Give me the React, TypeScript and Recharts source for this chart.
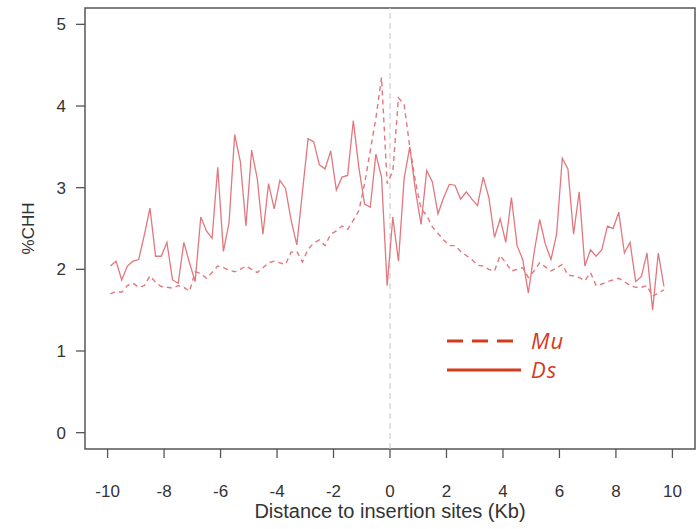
import React from 'react';
import { Label, Legend, Line, LineChart, ReferenceArea, ReferenceLine, XAxis, YAxis } from 'recharts';

// %CHH around insertion sites, 200 bp bins from -9.9 to 9.7 Kb
const dsValues = [
  2.04, 2.10, 1.87, 2.04, 2.10, 2.12, 2.42, 2.75, 2.16, 2.16,
  2.33, 1.87, 1.83, 2.33, 2.08, 1.85, 2.64, 2.47, 2.38, 3.25,
  2.22, 2.57, 3.65, 3.32, 2.53, 3.46, 3.11, 2.43, 3.05, 2.74,
  3.09, 2.99, 2.60, 2.30, 2.95, 3.60, 3.56, 3.28, 3.23, 3.45,
  2.97, 3.13, 3.15, 3.82, 3.24, 2.80, 2.76, 3.41, 3.13, 1.80,
  2.64, 2.10, 3.11, 3.50, 2.97, 2.55, 3.21, 3.07, 2.68, 2.88,
  3.04, 3.03, 2.86, 2.95, 2.86, 2.78, 3.13, 2.88, 2.39, 2.62,
  2.33, 2.88, 2.29, 2.12, 1.71, 2.20, 2.61, 2.31, 2.12, 2.43,
  3.36, 3.23, 2.43, 2.95, 2.04, 2.24, 2.16, 2.24, 2.53, 2.50,
  2.70, 2.20, 2.33, 1.85, 1.91, 2.20, 1.50, 2.20, 1.79,
];

const muValues = [
  1.70, 1.73, 1.72, 1.80, 1.83, 1.78, 1.80, 1.92, 1.84, 1.79,
  1.78, 1.77, 1.80, 1.78, 1.73, 1.97, 1.95, 1.89, 1.96, 2.04,
  2.02, 1.99, 1.97, 2.00, 2.04, 2.00, 1.96, 2.02, 2.08, 2.10,
  2.08, 2.06, 2.21, 2.22, 2.09, 2.25, 2.32, 2.36, 2.29, 2.43,
  2.47, 2.53, 2.49, 2.60, 2.72, 3.05, 3.45, 3.85, 4.35, 3.05,
  3.20, 4.10, 4.02, 3.50, 3.08, 2.74, 2.66, 2.52, 2.44, 2.36,
  2.29, 2.29, 2.22, 2.17, 2.12, 2.05, 2.04, 2.00, 1.98, 2.17,
  2.08, 1.98, 2.00, 2.02, 1.90, 1.98, 2.08, 2.03, 1.98, 2.02,
  2.06, 1.93, 1.92, 1.90, 1.86, 1.96, 1.80, 1.82, 1.85, 1.87,
  1.89, 1.85, 1.80, 1.78, 1.78, 1.80, 1.67, 1.71, 1.75,
];

const xTicks = [-10, -8, -6, -4, -2, 0, 2, 4, 6, 8, 10];
const yTicks = [0, 1, 2, 3, 4, 5];

const legendItems = [
  { name: 'Mu', dash: '16 9' },
  { name: 'Ds', dash: undefined as string | undefined },
];

const binCenters = dsValues.map((_, i) => Number((-9.9 + 0.2 * i).toFixed(1)));
const data = binCenters.map((kb, i) => ({ kb, Ds: dsValues[i], Mu: muValues[i] }));

const LINE_COLOR = '#e2777e';
const LEGEND_COLOR = '#d4391b';
const AXIS_COLOR = '#555';
const TEXT_COLOR = '#333';
const FONT = '"Liberation Sans", Arial, sans-serif';

const renderLegend = () => (
  <div>
    {legendItems.map((item) => (
      <div key={item.name} style={{ display: 'flex', alignItems: 'center', height: 29 }}>
        <svg width={76} height={6}>
          <line x1={0} y1={3} x2={74} y2={3} stroke={LEGEND_COLOR} strokeWidth={3} strokeDasharray={item.dash} />
        </svg>
        <span
          style={{
            display: 'inline-block',
            marginLeft: 8,
            height: 27,
            fontFamily: '"Open Sans", sans-serif',
            fontStyle: 'italic',
            fontSize: 22,
            letterSpacing: 1,
            color: LEGEND_COLOR,
            lineHeight: '27px',
          }}
        >
          {item.name}
        </span>
      </div>
    ))}
  </div>
);

export default function App() {
  return (
    <div style={{ position: 'absolute', left: 0, top: 0, width: 697, height: 529, background: '#fff' }}>
      <LineChart
        width={697}
        height={529}
        data={data}
        margin={{ top: 8, right: 2, bottom: 0, left: 0 }}
        style={{ fontFamily: FONT }}
      >
        <XAxis
          dataKey="kb"
          type="number"
          domain={[-10.8, 10.8]}
          ticks={xTicks}
          height={80}
          axisLine={false}
          tickSize={9}
          tickMargin={27}
          tickLine={{ stroke: AXIS_COLOR, strokeWidth: 1.3 }}
          tick={{ fill: TEXT_COLOR, fontSize: 17 }}
          allowDataOverflow
        >
          <Label
            value="Distance to insertion sites (Kb)"
            position="insideBottom"
            offset={11}
            style={{ fill: TEXT_COLOR, fontSize: 20 }}
          />
        </XAxis>
        <YAxis
          type="number"
          domain={[-0.2, 5.2]}
          ticks={yTicks}
          width={85}
          axisLine={false}
          tickSize={9}
          tickMargin={10}
          tickLine={{ stroke: AXIS_COLOR, strokeWidth: 1.3 }}
          tick={{ fill: TEXT_COLOR, fontSize: 17 }}
          allowDataOverflow
        >
          <Label
            value="%CHH"
            angle={-90}
            position="insideLeft"
            offset={28}
            style={{ fill: TEXT_COLOR, fontSize: 17, textAnchor: 'middle' }}
          />
        </YAxis>
        <ReferenceArea
          x1={-10.8}
          x2={10.8}
          y1={-0.2}
          y2={5.2}
          fill="none"
          fillOpacity={0}
          stroke={AXIS_COLOR}
          strokeWidth={1.5}
        />
        <ReferenceLine x={0} stroke="#d6cccc" strokeWidth={1.2} strokeDasharray="6 4" />
        <Line
          dataKey="Mu"
          type="linear"
          stroke={LINE_COLOR}
          strokeWidth={1.4}
          strokeDasharray="5 4"
          dot={false}
          isAnimationActive={false}
        />
        <Line
          dataKey="Ds"
          type="linear"
          stroke={LINE_COLOR}
          strokeWidth={1.3}
          dot={false}
          isAnimationActive={false}
        />
        <Legend
          layout="vertical"
          align="center"
          verticalAlign="middle"
          content={renderLegend}
          wrapperStyle={{ left: 447, top: 326, width: 'auto' }}
        />
      </LineChart>
    </div>
  );
}
